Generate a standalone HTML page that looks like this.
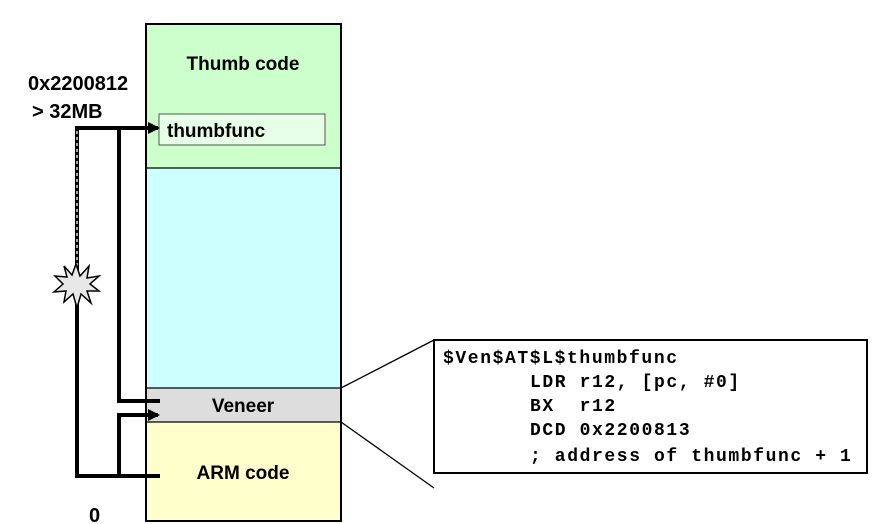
<!DOCTYPE html>
<html><head><meta charset="utf-8"><style>
html,body{margin:0;padding:0;background:#fff;}
svg{display:block;}
.s{font-family:"Liberation Sans",sans-serif;font-weight:bold;font-size:19px;fill:#000;}
.l{font-family:"Liberation Sans",sans-serif;font-weight:bold;font-size:20px;fill:#000;}
.m{font-family:"Liberation Mono",monospace;font-weight:bold;font-size:18px;letter-spacing:1.6px;fill:#000;white-space:pre;}
</style></head><body>
<svg width="889" height="524" viewBox="0 0 889 524" xmlns="http://www.w3.org/2000/svg">
<defs><marker id="a" markerWidth="12" markerHeight="12" refX="10" refY="6" orient="auto" markerUnits="userSpaceOnUse"><path d="M0,0 L12,6 L0,12 z" fill="#000"/></marker></defs>
<rect x="146" y="24" width="195" height="144" fill="#ccffcc"/>
<rect x="146" y="168" width="195" height="220" fill="#ccffff"/>
<rect x="146" y="388" width="195" height="34" fill="#dddddd"/>
<rect x="146" y="422" width="195" height="99" fill="#ffffcc"/>
<line x1="146" y1="168" x2="341" y2="168" stroke="#000" stroke-width="1.2"/>
<line x1="146" y1="388" x2="341" y2="388" stroke="#000" stroke-width="1.2"/>
<line x1="146" y1="422" x2="341" y2="422" stroke="#000" stroke-width="1.2"/>
<rect x="146" y="24" width="195" height="497" fill="none" stroke="#000" stroke-width="2"/>
<rect x="159" y="114" width="166" height="31" fill="#e6ffe6" stroke="#555" stroke-width="1"/>
<text class="s" x="243" y="70" text-anchor="middle">Thumb code</text>
<text class="s" x="167" y="137">thumbfunc</text>
<text class="s" x="243" y="412" text-anchor="middle">Veneer</text>
<text class="s" x="243" y="479" text-anchor="middle">ARM code</text>
<text class="l" x="28" y="90">0x2200812</text>
<text class="l" x="32" y="118">&gt; 32MB</text>
<text class="l" x="89" y="522">0</text>
<polyline points="160,476 77,476 77,128 158,128" fill="none" stroke="#000" stroke-width="4" marker-end="url(#a)"/>
<line x1="77" y1="131" x2="77" y2="268" stroke="#fff" stroke-width="1.3" stroke-dasharray="3,3"/>
<polyline points="160,401 119,401 119,128" fill="none" stroke="#000" stroke-width="4"/>
<polyline points="119,476 119,415 158,415" fill="none" stroke="#000" stroke-width="4" marker-end="url(#a)"/>
<polygon points="76,264 80,276 89,266 87,278 99,276 90,284 99,291 87,291 91,303 81,294 77,308 73,294 64,302 66,291 54,292 63,284 55,276 67,277 64,266 72,275" fill="#e8e8e8" stroke="#000" stroke-width="1.5"/>
<line x1="341" y1="388" x2="434" y2="340" stroke="#000" stroke-width="1.3"/>
<line x1="341" y1="422" x2="434" y2="488" stroke="#000" stroke-width="1.3"/>
<rect x="434" y="340" width="433" height="133" fill="#fff" stroke="#000" stroke-width="2"/>
<text class="m" x="443" y="363">$Ven$AT$L$thumbfunc</text>
<text class="m" x="530" y="387">LDR r12, [pc, #0]</text>
<text class="m" x="530" y="411">BX  r12</text>
<text class="m" x="530" y="435">DCD 0x2200813</text>
<text class="m" x="530" y="461">; address of thumbfunc + 1</text>
</svg>
</body></html>
